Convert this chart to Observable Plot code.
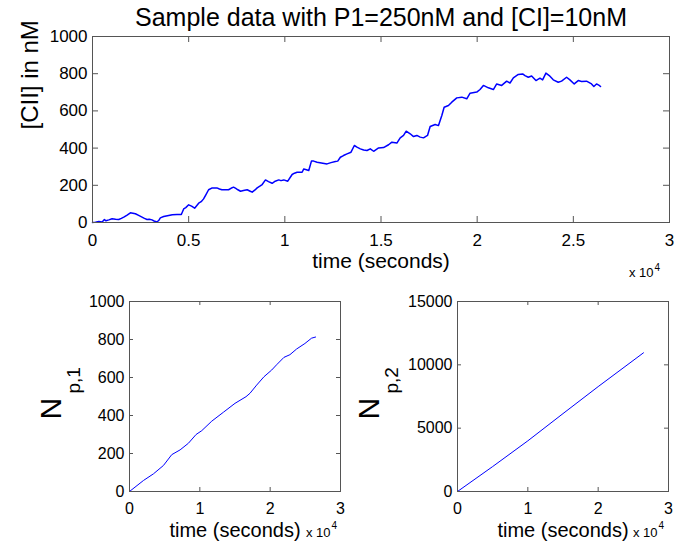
<!DOCTYPE html>
<html>
<head>
<meta charset="utf-8">
<script src="https://cdn.jsdelivr.net/npm/d3@7"></script>
<script src="https://cdn.jsdelivr.net/npm/@observablehq/plot@0.6"></script>
<style>
html, body { margin: 0; padding: 0; background: #fff; }
#fig { position: relative; width: 687px; height: 544px; overflow: hidden; background: #fff; }
#fig > svg { position: absolute; }
</style>
</head>
<body>
<div id="fig"></div>
<script>
// ---------- text ----------
const titleText = "Sample data with P1=250nM and [CI]=10nM";
const xLabelText = "time (seconds)";
const topYLabel = "[CII] in nM";
const np1Main = "N", np1Sub = "p,1";
const np2Main = "N", np2Sub = "p,2";
const expBase = "x 10", expPow = "4";

// ---------- tick values ----------
const xTicksTop = [0, 5000, 10000, 15000, 20000, 25000, 30000];
const xTicksBottom = [0, 10000, 20000, 30000];
const yTicksTop = [0, 200, 400, 600, 800, 1000];
const yTicksNp1 = [0, 200, 400, 600, 800, 1000];
const yTicksNp2 = [0, 5000, 10000, 15000];

// ---------- data: [CII] (nM) vs time (s) ----------
const topTime = [0,150,330,500,620,700,850,1017,1200,1363,1500,1650,1800,1970,2100,2230,2400,2575,2700,2834,2950,3093,3200,3353,3450,3526,3700,3960,4150,4393,4618,4740,4850,5000,5150,5310,5520,5650,5776,5900,6036,6200,6467,6600,6727,6900,7073,7200,7333,7450,7560,7696,7850,8042,8200,8303,8450,8562,8700,8822,8994,9150,9340,9500,9685,9800,9945,10153,10379,10500,10638,10898,10985,11120,11244,11383,11500,11677,11900,12195,12400,12628,12750,12887,13050,13233,13441,13614,13750,13926,14100,14272,14442,14615,14874,15133,15393,15566,15825,15999,16172,16310,16518,16691,16864,17037,17210,17418,17556,17816,17989,18162,18283,18507,18680,18940,19200,19459,19632,19978,20150,20324,20583,20843,21016,21275,21535,21708,21881,22139,22364,22485,22658,22831,23056,23264,23402,23575,23748,23956,24215,24388,24649,24822,25047,25254,25427,25687,25946,26067,26206,26344,26414];
const topConc = [0,2,5,3,16,9,14,20,17,16,22,30,40,52,50,47,38,29,22,16,18,14,8,3,12,25,32,38,42,43,43,73,80,95,88,77,104,112,127,150,176,185,186,180,176,176,176,184,190,183,176,168,172,176,168,163,175,186,195,204,229,220,211,222,229,225,229,222,258,265,270,270,288,284,280,330,330,324,320,315,322,328,330,351,360,369,378,414,405,396,390,387,396,383,401,403,418,432,427,455,468,491,477,462,468,459,455,468,516,527,521,575,620,629,647,670,674,665,695,701,715,737,724,715,745,737,760,750,778,796,799,790,781,788,763,776,767,803,790,767,754,760,781,767,745,763,758,760,745,731,745,737,731];

// ---------- data: N_p,1 vs time ----------
const np1Time = [0,1988,3407,4827,6010,7194,8377,9465,10270,11690,13346,15002,16564,17132,18078,19120,20208,20918,21959,22811,23758,24941,25887,26455];
const np1Vals = [0,58,93,137,194,219,254,300,320,370,417,464,499,517,560,604,639,667,706,720,750,779,807,813];

// ---------- data: N_p,2 vs time ----------
const np2Time = [0,5000,10000,15000,20000,26445];
const np2Vals = [0,1970,4000,6150,8280,10950];

// ---------- styling ----------
const FONT = '"Liberation Sans", Arial, Helvetica, sans-serif';
const FRAME = "#555";
const LINE = "#0000ff";

function panel(o) {
  const innerW = o.width - o.ml - o.mr;
  const innerH = o.height - o.mt - o.mb;
  const svg = Plot.plot({
    width: o.width, height: o.height,
    marginLeft: o.ml, marginRight: o.mr, marginTop: o.mt, marginBottom: o.mb,
    style: {background: "white", fontFamily: FONT, fontSize: o.tickFont + "px", color: "#000", overflow: "visible"},
    x: {domain: [0, 30000], label: null},
    y: {domain: o.yDomain, label: null},
    marks: [
      Plot.line(o.xs, {x: o.xs, y: o.ys, stroke: LINE, strokeWidth: o.lineWidth}),
      Plot.frame({stroke: FRAME, strokeWidth: 1}),
      Plot.tickX(o.xTicks, {x: d => d, stroke: FRAME, insetTop: innerH - o.tickLen}),
      Plot.tickX(o.xTicks, {x: d => d, stroke: FRAME, insetBottom: innerH - o.tickLen}),
      Plot.tickY(o.yTicks, {y: d => d, stroke: FRAME, insetRight: innerW - o.tickLen}),
      Plot.tickY(o.yTicks, {y: d => d, stroke: FRAME, insetLeft: innerW - o.tickLen}),
      Plot.axisX({ticks: o.xTicks, tickSize: 0, tickPadding: 11, tickFormat: d => String(d / 1e4), label: null, fill: "#000"}),
      Plot.axisY({ticks: o.yTicks, tickSize: 0, tickPadding: 5, tickFormat: d => String(d), label: null, fill: "#000"}),
      ...o.extra
    ]
  });
  svg.style.left = o.left + "px";
  svg.style.top = o.top + "px";
  return svg;
}

const fig = document.getElementById("fig");

// Top panel
fig.appendChild(panel({
  left: 0, top: 0, width: 687, height: 282,
  ml: 92, mr: 18, mt: 36, mb: 60, tickFont: 17,
  xs: topTime, ys: topConc, lineWidth: 1.5,
  xTicks: xTicksTop, yTicks: yTicksTop, yDomain: [0, 1000], tickLen: 6,
  extra: [
    Plot.text([titleText], {frameAnchor: "top", text: d => d, lineAnchor: "bottom", dy: -11, fontSize: 25, fill: "#000"}),
    Plot.text([xLabelText], {frameAnchor: "bottom", text: d => d, lineAnchor: "bottom", dy: 45, fontSize: 21, fill: "#000"}),
    Plot.text([topYLabel], {frameAnchor: "left", text: d => d, rotate: -90, lineAnchor: "bottom", dx: -55, fontSize: 24, fill: "#000"}),
    Plot.text([expBase], {frameAnchor: "bottom-right", text: d => d, textAnchor: "end", lineAnchor: "bottom", dx: -16, dy: 54, fontSize: 13, fill: "#000"}),
    Plot.text([expPow], {frameAnchor: "bottom-right", text: d => d, textAnchor: "start", lineAnchor: "bottom", dx: -15, dy: 48, fontSize: 10, fill: "#000"})
  ]
}));

// Bottom-left panel
fig.appendChild(panel({
  left: 0, top: 282, width: 350, height: 262,
  ml: 129, mr: 10, mt: 19, mb: 53, tickFont: 16,
  xs: np1Time, ys: np1Vals, lineWidth: 1,
  xTicks: xTicksBottom, yTicks: yTicksNp1, yDomain: [0, 1000], tickLen: 4,
  extra: [
    Plot.text([xLabelText], {frameAnchor: "bottom", text: d => d, lineAnchor: "bottom", dy: 45, fontSize: 20, fill: "#000"}),
    Plot.text([expBase], {frameAnchor: "bottom-right", text: d => d, textAnchor: "end", lineAnchor: "bottom", dx: -10, dy: 45, fontSize: 13, fill: "#000"}),
    Plot.text([expPow], {frameAnchor: "bottom-right", text: d => d, textAnchor: "start", lineAnchor: "bottom", dx: -9, dy: 37, fontSize: 10, fill: "#000"}),
    Plot.text([np1Main], {frameAnchor: "left", text: d => d, rotate: -90, textAnchor: "start", lineAnchor: "bottom", dx: -69, dy: 23, fontSize: 30, fill: "#000"}),
    Plot.text([np1Sub], {frameAnchor: "left", text: d => d, rotate: -90, textAnchor: "start", lineAnchor: "bottom", dx: -50, dy: -3, fontSize: 19, fill: "#000"})
  ]
}));

// Bottom-right panel
fig.appendChild(panel({
  left: 350, top: 282, width: 337, height: 262,
  ml: 107, mr: 19, mt: 19, mb: 53, tickFont: 16,
  xs: np2Time, ys: np2Vals, lineWidth: 1,
  xTicks: xTicksBottom, yTicks: yTicksNp2, yDomain: [0, 15000], tickLen: 4,
  extra: [
    Plot.text([xLabelText], {frameAnchor: "bottom", text: d => d, lineAnchor: "bottom", dy: 45, fontSize: 20, fill: "#000"}),
    Plot.text([expBase], {frameAnchor: "bottom-right", text: d => d, textAnchor: "end", lineAnchor: "bottom", dx: -11, dy: 45, fontSize: 13, fill: "#000"}),
    Plot.text([expPow], {frameAnchor: "bottom-right", text: d => d, textAnchor: "start", lineAnchor: "bottom", dx: -10, dy: 37, fontSize: 10, fill: "#000"}),
    Plot.text([np2Main], {frameAnchor: "left", text: d => d, rotate: -90, textAnchor: "start", lineAnchor: "bottom", dx: -79, dy: 23, fontSize: 30, fill: "#000"}),
    Plot.text([np2Sub], {frameAnchor: "left", text: d => d, rotate: -90, textAnchor: "start", lineAnchor: "bottom", dx: -60, dy: -3, fontSize: 19, fill: "#000"})
  ]
}));
</script>
</body>
</html>
